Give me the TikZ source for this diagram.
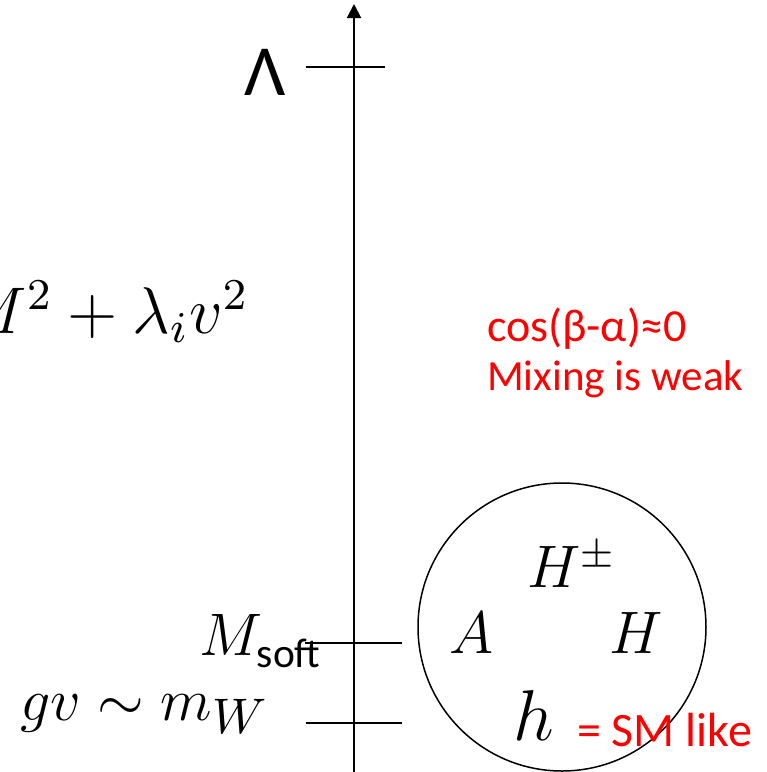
\documentclass[tikz,border=0pt]{standalone}
\usepackage{fontspec}
\newfontfamily\calib{Carlito}
\usetikzlibrary{arrows.meta}
\colorlet{noteA}{red}

\tikzset{
  scaleline/.style={line width=2pt},
  scaletick/.style={line width=1.6pt},
  bigmath/.style={font=\fontsize{12}{12}\selectfont, inner sep=0pt, scale=5},
  rednote/.style={font=\calib\fontsize{43}{43}\selectfont, text=noteA, inner sep=0pt}
}

\begin{document}
\begin{tikzpicture}[x=1pt, y=-1pt]
  % frame of the page (pixel grid, y down)
  \useasboundingbox (0,0) rectangle (767,772);
  \clip (0,0) rectangle (767,772);

  % energy axis
  \coordinate (axisbot) at (354,780);
  \coordinate (axistop) at (354,4);
  \draw[scaleline, -{Triangle[width=14pt,length=14pt]}] (axisbot) -- (axistop);

  % tick marks on the axis
  \coordinate (lamL) at (306,67);   \coordinate (lamR) at (385,67);
  \coordinate (softL) at (305,643); \coordinate (softR) at (402,643);
  \coordinate (ewL) at (306,723);   \coordinate (ewR) at (402,723);
  \draw[scaletick] (lamL) -- (lamR);
  \draw[scaletick] (softL) -- (softR);
  \draw[scaletick] (ewL) -- (ewR);

  % scale labels
  \node[font=\calib\fontsize{72}{72}\selectfont, inner sep=0pt, anchor=base] (lam) at (265,95) {Λ};
  \node[bigmath, scale=1.1, anchor=base east] (heavy) at (250,333) {$M^2+\lambda_i v^2$};
  \node[bigmath, anchor=base east] (msoft) at (324,655) {$M_{\raisebox{-0.15ex}{\calib\fontsize{8.3}{8.3}\selectfont soft}}$};
  \node[bigmath, anchor=base east] (ew) at (270,720) {$gv\sim m_{\mbox{\fontsize{10}{10}\selectfont$W$}}$};

  % the light sector
  \node[circle, draw, line width=1.5pt, minimum size=288pt, inner sep=0pt] (sector) at (562,627) {};
  \node[bigmath] (hpm) at (572,565) {$H^\pm$};
  \node[bigmath] (pa) at (472,633) {$A$};
  \node[bigmath] (ph) at (636,633) {$H$};
  \node[bigmath, scale=1.2] (sh) at (534,715) {$h$};

  % notes
  \node[rednote, font=\calib\fontsize{46}{46}\selectfont, anchor=base west] (align) at (487,341) {cos(β-α)≈0};
  \node[rednote, anchor=base west] (mix) at (487,390) {Mixing is weak};
  \node[rednote, font=\calib\fontsize{48}{48}\selectfont, anchor=base west] (smlike) at (577,746) {= SM like};
\end{tikzpicture}
\end{document}
